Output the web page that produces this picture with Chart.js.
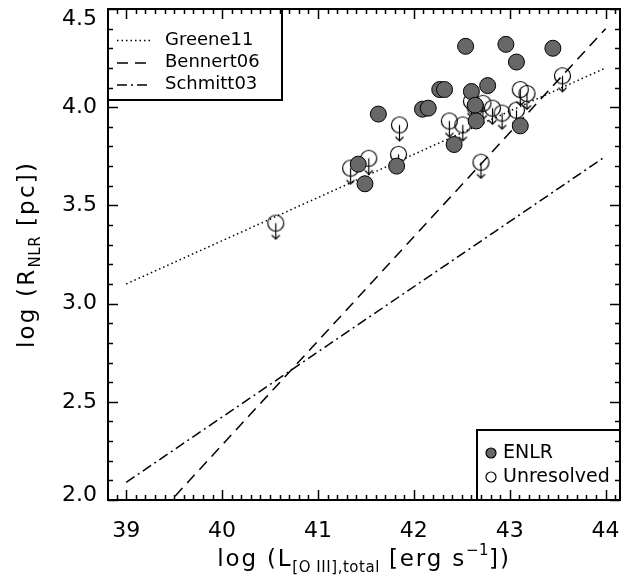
<!DOCTYPE html>
<html>
<head>
<meta charset="utf-8">
<script src="https://cdn.jsdelivr.net/npm/chart.js@4.4.1/dist/chart.umd.min.js"></script>
<style>
  html, body { margin: 0; padding: 0; background: #fff; }
  #wrap { width: 631px; height: 580px; }
</style>
</head>
<body>
<div id="wrap"><canvas id="chart" width="631" height="580"></canvas></div>
<script>
// axis ticks
const xTicks = [39, 40, 41, 42, 43, 44];
const yTicks = [2.0, 2.5, 3.0, 3.5, 4.0, 4.5];

// resolved ENLR sizes
const enlrX = [42.54, 42.96, 43.45, 43.07, 41.63, 42.09, 42.15, 42.27, 42.32, 42.60, 42.77, 42.64, 42.65, 43.11, 42.42, 41.42, 41.49, 41.82];
const enlrY = [4.31, 4.32, 4.30, 4.23, 3.965, 3.99, 3.995, 4.09, 4.09, 4.08, 4.11, 4.01, 3.93, 3.905, 3.81, 3.71, 3.61, 3.70];

// unresolved (upper limits)
const unresX = [43.55, 43.11, 43.18, 43.07, 42.92, 42.82, 42.72, 42.60, 42.37, 42.51, 41.85, 41.84, 41.53, 41.34, 42.70, 40.56, 42.64];
const unresY = [4.16, 4.09, 4.07, 3.985, 3.97, 3.995, 4.02, 4.03, 3.93, 3.91, 3.91, 3.76, 3.74, 3.69, 3.72, 3.41, 4.00];

// literature relations, evaluated at the ends of the range
const relX     = [39, 44];
const greeneY  = [3.10, 4.20];
const bennertY = [1.75, 4.40];
const schmittY = [2.09, 3.75];

const FONT = "'DejaVu Sans', sans-serif";
const GREY = '#676767';

const DASH_DOT  = [1.5, 3];
const DASH_LONG = [11, 7];
const DASH_DDOT = [10, 4, 2, 4];

const pts = (xs, ys) => xs.map((x, i) => ({ x, y: ys[i] }));

// open circle with a downward arrow, centred on the point
function limitMarker(r) {
  const c = document.createElement('canvas');
  const w = 2 * r + 5, h = 2 * (r + 20) + 1;
  c.width = w; c.height = h;
  const g = c.getContext('2d');
  const cx = w / 2, cy = h / 2;
  g.strokeStyle = '#000';
  g.lineWidth = 1.2;
  g.beginPath(); g.arc(cx, cy, r, 0, Math.PI * 2); g.stroke();
  g.beginPath();
  g.moveTo(cx, cy); g.lineTo(cx, cy + 16);
  g.moveTo(cx - 4, cy + 12); g.lineTo(cx, cy + 16); g.lineTo(cx + 4, cy + 12);
  g.stroke();
  return c;
}

// text with sub/superscripts
function richText(ctx, parts, x, y, size, spacing) {
  const small = Math.round(size * 0.64);
  let w = 0;
  parts.forEach(p => {
    ctx.letterSpacing = (p.s ? spacing * 0.3 : spacing) + 'px';
    ctx.font = `${p.s ? small : size}px ${FONT}`;
    p.w = ctx.measureText(p.t).width;
    w += p.w;
  });
  let cx = x - w / 2;
  ctx.textBaseline = 'middle';
  ctx.textAlign = 'left';
  parts.forEach(p => {
    ctx.letterSpacing = (p.s ? spacing * 0.3 : spacing) + 'px';
    ctx.font = `${p.s ? small : size}px ${FONT}`;
    const dy = p.s === -1 ? size * 0.34 : p.s === 1 ? -size * 0.38 : 0;
    ctx.fillText(p.t, cx, y + dy);
    cx += p.w;
  });
  ctx.letterSpacing = '0px';
}

// keep the end labels of the y axis inside the frame, as in the original
const edgeLabels = {
  id: 'edgeLabels',
  beforeDraw(chart) {
    const items = chart.scales.y.getLabelItems(chart.chartArea);
    items.forEach(it => {
      if (it.label === '4.5') it.options.translation[1] += 10;
      if (it.label === '2.0') it.options.translation[1] -= 5;
    });
  }
};

const framePlugin = {
  id: 'frame',
  afterDraw(chart) {
    const { ctx, chartArea: a, scales: { x, y } } = chart;
    ctx.save();
    ctx.strokeStyle = '#000';

    // tick marks on all four sides, pointing inward
    ctx.lineWidth = 1.5;
    ctx.beginPath();
    for (let i = Math.ceil(x.min * 10); i <= Math.floor(x.max * 10); i++) {
      const px = Math.round(x.getPixelForValue(i / 10)) + 0.5;
      const len = i % 10 === 0 ? 10 : 5;
      ctx.moveTo(px, a.bottom); ctx.lineTo(px, a.bottom - len);
      ctx.moveTo(px, a.top);    ctx.lineTo(px, a.top + len);
    }
    for (let i = Math.ceil(y.min * 10); i <= Math.floor(y.max * 10); i++) {
      const py = Math.round(y.getPixelForValue(i / 10)) + 0.5;
      const len = i % 5 === 0 ? 10 : 5;
      ctx.moveTo(a.left, py);  ctx.lineTo(a.left + len, py);
      ctx.moveTo(a.right, py); ctx.lineTo(a.right - len, py);
    }
    ctx.stroke();

    ctx.lineWidth = 2;
    ctx.strokeRect(a.left, a.top, a.right - a.left, a.bottom - a.top);

    // legend, top left
    ctx.lineWidth = 2;
    ctx.strokeRect(a.left, a.top, 174, 91);
    const rel = [
      ['Greene11', DASH_DOT, 40],
      ['Bennert06', DASH_LONG, 62.5],
      ['Schmitt03', DASH_DDOT, 84.5],
    ];
    ctx.fillStyle = '#000';
    ctx.textBaseline = 'middle';
    ctx.textAlign = 'left';
    ctx.font = `18px ${FONT}`;
    rel.forEach(([label, dash, ly]) => {
      ctx.lineWidth = 1.5;
      ctx.setLineDash(dash);
      ctx.beginPath(); ctx.moveTo(117, ly + 0.5); ctx.lineTo(151, ly + 0.5); ctx.stroke();
      ctx.setLineDash([]);
      ctx.fillText(label, 165, ly);
    });

    // legend, bottom right
    ctx.lineWidth = 2;
    ctx.strokeRect(477, 430, a.right - 477, a.bottom - 430);
    ctx.lineWidth = 1.2;
    ctx.font = `19px ${FONT}`;
    ctx.beginPath(); ctx.arc(491, 453, 5, 0, Math.PI * 2);
    ctx.fillStyle = GREY; ctx.fill(); ctx.stroke();
    ctx.beginPath(); ctx.arc(491, 477, 5, 0, Math.PI * 2); ctx.stroke();
    ctx.fillStyle = '#000';
    ctx.fillText('ENLR', 503, 453);
    ctx.fillText('Unresolved', 503, 477);

    // axis titles
    richText(ctx, [
      { t: 'log (L' }, { t: '[O III],total', s: -1 }, { t: ' [erg s' }, { t: '\u22121', s: 1 }, { t: '])' },
    ], (a.left + a.right) / 2, 560, 23, 1.8);

    ctx.save();
    ctx.translate(28, (a.top + a.bottom) / 2);
    ctx.rotate(-Math.PI / 2);
    richText(ctx, [{ t: 'log (R' }, { t: 'NLR', s: -1 }, { t: ' [pc])' }], 0, 0, 23, 2.2);
    ctx.restore();

    ctx.restore();
  }
};

const lineSet = (label, ys, dash) => ({
  type: 'line', label, data: pts(relX, ys),
  borderColor: '#000', borderWidth: 1.5, borderDash: dash,
  pointRadius: 0, fill: false, tension: 0,
});

new Chart(document.getElementById('chart'), {
  type: 'scatter',
  data: {
    datasets: [
      { label: 'ENLR', data: pts(enlrX, enlrY), backgroundColor: GREY, borderColor: '#000',
        borderWidth: 1, pointRadius: 8, pointHoverRadius: 8 },
      { label: 'Unresolved', data: pts(unresX, unresY), pointStyle: limitMarker(8),
        pointRadius: 8, pointHoverRadius: 8 },
      lineSet('Greene11', greeneY, DASH_DOT),
      lineSet('Bennert06', bennertY, DASH_LONG),
      lineSet('Schmitt03', schmittY, DASH_DDOT),
    ],
  },
  options: {
    responsive: false,
    devicePixelRatio: 1,
    animation: false,
    layout: { padding: { left: 0, right: 11, top: 8, bottom: 0 } },
    plugins: { legend: { display: false }, tooltip: { enabled: false } },
    scales: {
      x: {
        type: 'linear', min: 38.81, max: 44.15,
        afterBuildTicks: s => { s.ticks = xTicks.map(v => ({ value: v })); },
        afterFit: s => { s.height = 80; s.paddingLeft = 0; s.paddingRight = 0; },
        grid: { display: false, drawTicks: false },
        border: { display: false },
        ticks: { color: '#000', font: { family: FONT, size: 22 }, padding: 18,
                 maxRotation: 0, autoSkip: false, callback: v => String(v) },
      },
      y: {
        type: 'linear', min: 2.0, max: 4.5,
        afterBuildTicks: s => { s.ticks = yTicks.map(v => ({ value: v })); },
        afterFit: s => { s.width = 108; s.paddingTop = 0; s.paddingBottom = 0; },
        grid: { display: false, drawTicks: false },
        border: { display: false },
        ticks: { color: '#000', font: { family: FONT, size: 22 }, padding: 11,
                 autoSkip: false, callback: v => v.toFixed(1) },
      },
    },
  },
  plugins: [edgeLabels, framePlugin],
});
</script>
</body>
</html>
